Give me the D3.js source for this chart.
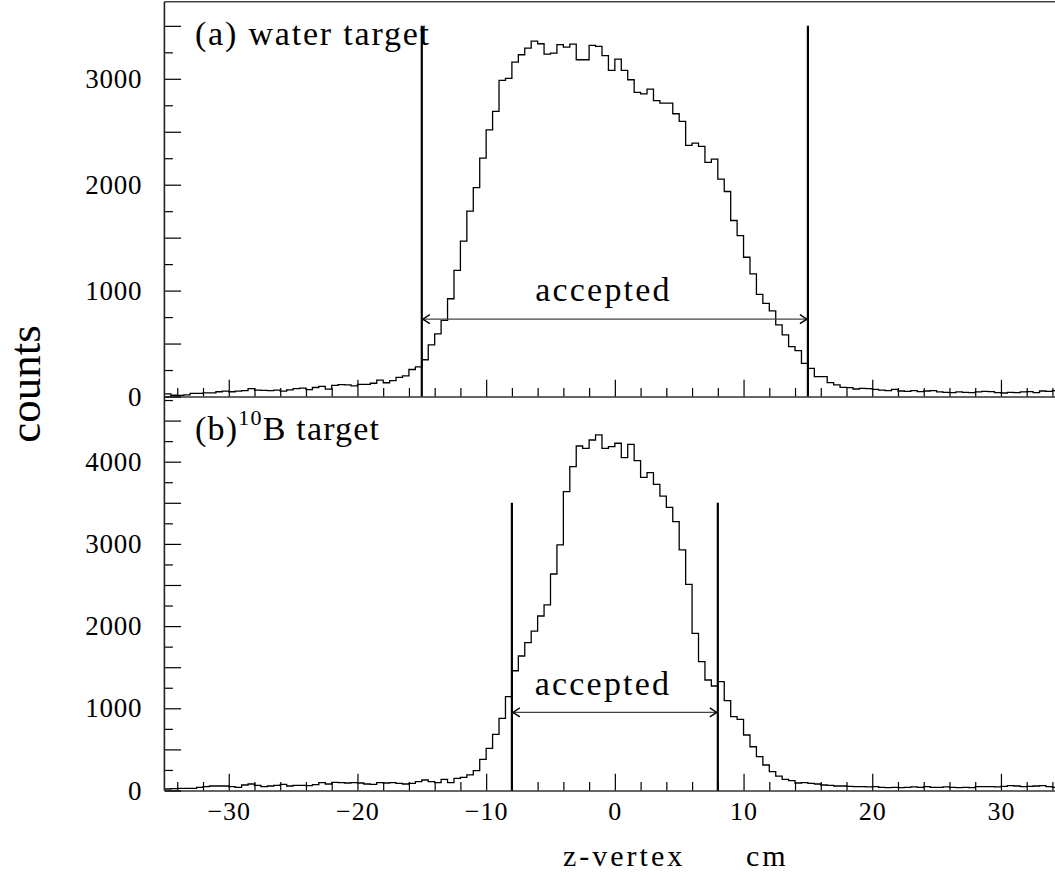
<!DOCTYPE html>
<html>
<head>
<meta charset="utf-8">
<script src="https://cdn.jsdelivr.net/npm/d3@7"></script>
<style>
  html, body { margin: 0; padding: 0; background: #fff; }
  svg { display: block; }
  text { font-family: "Liberation Serif", "Times New Roman", serif; fill: #000; }
</style>
</head>
<body>
<svg id="chart" width="1055" height="875"></svg>
<script>
// ---------- data ----------
const xMin = -35, xMax = 35, binWidth = 0.5;

// (a) water target, 140 bins of 0.5 cm from -35 to 35
const waterCounts = [
  25,12,10,15,30,30,35,35,45,50,45,50,55,75,60,58,55,60,50,62,
  75,80,65,85,95,70,105,112,110,100,115,115,125,155,130,150,180,195,255,280,
  347,488,592,718,923,1191,1468,1751,1972,2251,2518,2692,2985,3004,3157,3227,3290,3356,3331,3233,
  3243,3322,3300,3328,3180,3180,3315,3306,
  3218,3079,3186,3079,2991,2871,2858,2903,2793,2771,2771,2670,2598,2371,2393,2362,2211,2242,2053,1936,
  1662,1520,1315,1158,965,880,808,676,581,471,433,313,
  266,187,187,131,109,87,83,71,77,74,68,61,55,68,52,49,55,46,52,55,
  43,39,36,43,39,36,43,49,46,36,33,39,36,43,46,36,52,49,55,49
];

// (b) 10B target
const boronCounts = [
  18,22,26,26,26,39,47,55,55,55,47,39,67,79,63,47,55,63,75,55,
  63,63,59,71,95,79,99,95,91,95,91,79,75,95,91,95,87,79,87,107,
  128,107,95,136,95,148,160,189,241,379,513,683,878,1141,1457,1636,1798,1940,2123,2257,
  2634,2987,3635,3939,4191,4163,4264,4325,4163,4183,4224,4049,4211,4012,3810,3867,3725,3582,3445,3270,
  2926,2508,
  1912,1567,1344,1271,1324,1093,898,866,675,532,412,310,229,176,136,120,91,95,87,79,
  67,63,55,55,51,47,47,43,47,39,34,39,34,39,43,39,47,39,39,43,
  39,34,39,34,47,47,47,43,51,59,55,47,51,55,59,47,39,47
];

const waterCuts = [-15, 15];
const boronCuts = [-8, 8];
const cutTop = 3500;
const waterArrowY = 730;
const boronArrowY = 950;

const xTickLabels = [-30, -20, -10, 0, 10, 20, 30];
const waterYTicks = [0, 1000, 2000, 3000];
const boronYTicks = [0, 1000, 2000, 3000, 4000];
const waterYMax = 3728;
const boronYMax = 4793;

// ---------- layout ----------
const svg = d3.select("#chart");
const left = 164.4, right = 1065.3;
const topPanel = { top: 1.7, bottom: 396.5 };
const botPanel = { top: 396.5, bottom: 790.5 };

const x = d3.scaleLinear().domain([xMin, xMax]).range([left, right]);
const yA = d3.scaleLinear().domain([0, waterYMax]).range([topPanel.bottom, topPanel.top]);
const yB = d3.scaleLinear().domain([0, boronYMax]).range([botPanel.bottom, botPanel.top]);

function drawPanel(counts, y, panel, cuts, arrowY, showXLabels, yTicks, yMax) {
  const g = svg.append("g");

  // histogram step path
  const pts = [];
  counts.forEach((v, i) => {
    const lo = xMin + i * binWidth;
    pts.push([lo, v]);
    pts.push([lo + binWidth, v]);
  });
  const line = d3.line().x(d => x(d[0])).y(d => y(d[1]));
  g.append("path")
    .attr("d", line(pts))
    .attr("fill", "none")
    .attr("stroke", "#000")
    .attr("stroke-width", 1.3);

  // x axis: major ticks
  const xMajor = d3.axisBottom(x)
    .tickValues(xTickLabels)
    .tickSizeInner(-16.7).tickSizeOuter(0)
    .tickPadding(11)
    .tickFormat(showXLabels ? d3.format("d") : () => "");
  const gxa = g.append("g").attr("transform", `translate(0,${panel.bottom})`).call(xMajor);
  gxa.select(".domain").attr("stroke", "#333").attr("stroke-width", 1.6);
  gxa.selectAll(".tick line").attr("stroke", "#000").attr("stroke-width", 1.2);
  gxa.selectAll("text").attr("font-size", 26).attr("font-family", "Liberation Serif").attr("fill", "#000").attr("letter-spacing", 1);

  // x minor ticks
  const xMinor = d3.axisBottom(x)
    .tickValues(d3.range(-34, 35, 2).filter(v => v % 10 !== 0))
    .tickSizeInner(-8.5).tickSizeOuter(0).tickFormat(() => "");
  const gxm = g.append("g").attr("transform", `translate(0,${panel.bottom})`).call(xMinor);
  gxm.select(".domain").remove();
  gxm.selectAll(".tick line").attr("stroke", "#000").attr("stroke-width", 1.2);

  // y axis: major (every 500) and minor (every 250)
  const majorVals = d3.range(0, yMax, 500);
  const minorVals = d3.range(250, yMax, 500);
  const yMajor = d3.axisLeft(y).tickValues(majorVals)
    .tickSizeInner(-16.7).tickSizeOuter(0).tickPadding(22)
    .tickFormat(d => yTicks.includes(d) ? d3.format("d")(d) : "");
  const gya = g.append("g").attr("transform", `translate(${left},0)`).call(yMajor);
  gya.select(".domain").remove();
  gya.selectAll(".tick line").attr("stroke", "#000").attr("stroke-width", 1.2);
  gya.selectAll("text").attr("font-size", 27).attr("font-family", "Liberation Serif").attr("fill", "#000").attr("letter-spacing", 0.8);
  const yMinor = d3.axisLeft(y).tickValues(minorVals)
    .tickSizeInner(-8.5).tickSizeOuter(0).tickFormat(() => "");
  const gym = g.append("g").attr("transform", `translate(${left},0)`).call(yMinor);
  gym.select(".domain").remove();
  gym.selectAll(".tick line").attr("stroke", "#000").attr("stroke-width", 1.2);

  // cut lines
  g.selectAll("line.cut").data(cuts).enter().append("line")
    .attr("class", "cut")
    .attr("x1", d => x(d)).attr("x2", d => x(d))
    .attr("y1", y(0)).attr("y2", y(cutTop))
    .attr("stroke", "#000").attr("stroke-width", 2.2);

  // arrow
  const ax1 = x(cuts[0]), ax2 = x(cuts[1]), ay = y(arrowY);
  g.append("line").attr("x1", ax1).attr("x2", ax2).attr("y1", ay).attr("y2", ay)
    .attr("stroke", "#444").attr("stroke-width", 1.3);
  g.append("path")
    .attr("d", `M${ax1 + 8},${ay - 4.5} L${ax1 + 1},${ay} L${ax1 + 8},${ay + 4.5}`)
    .attr("fill", "none").attr("stroke", "#000").attr("stroke-width", 1.4);
  g.append("path")
    .attr("d", `M${ax2 - 8},${ay - 4.5} L${ax2 - 1},${ay} L${ax2 - 8},${ay + 4.5}`)
    .attr("fill", "none").attr("stroke", "#000").attr("stroke-width", 1.4);
}

drawPanel(waterCounts, yA, topPanel, waterCuts, waterArrowY, false, waterYTicks, waterYMax);
drawPanel(boronCounts, yB, botPanel, boronCuts, boronArrowY, true, boronYTicks, boronYMax);

// frame lines
svg.append("line").attr("x1", left).attr("x2", 1055).attr("y1", topPanel.top).attr("y2", topPanel.top)
  .attr("stroke", "#444").attr("stroke-width", 1.6);
svg.append("line").attr("x1", left).attr("x2", left).attr("y1", topPanel.top).attr("y2", botPanel.bottom)
  .attr("stroke", "#222").attr("stroke-width", 1.6);

// "accepted" labels
svg.append("text").attr("x", 603.5).attr("y", 301).attr("text-anchor", "middle")
  .attr("font-size", 34).attr("letter-spacing", 2.2).text("accepted");
svg.append("text").attr("x", 603).attr("y", 695).attr("text-anchor", "middle")
  .attr("font-size", 34).attr("letter-spacing", 2.2).text("accepted");

// panel titles
svg.append("text").attr("x", 195).attr("y", 45).attr("font-size", 34).attr("letter-spacing", 1.8)
  .text("(a) water target");
const tb = svg.append("text").attr("x", 195).attr("y", 440).attr("font-size", 34).attr("letter-spacing", 1.2);
tb.append("tspan").text("(b)");
tb.append("tspan").attr("font-size", 22).attr("dy", -15).text("10");
tb.append("tspan").attr("dy", 15).text("B target");

// axis titles
svg.append("text").attr("transform", "translate(40,384) rotate(-90)").attr("text-anchor", "middle")
  .attr("font-size", 45).text("counts");
svg.append("text").attr("x", 563).attr("y", 866).attr("font-size", 30).attr("letter-spacing", 3).text("z-vertex");
svg.append("text").attr("x", 746).attr("y", 866).attr("font-size", 30).attr("letter-spacing", 3).text("cm");
</script>
</body>
</html>
